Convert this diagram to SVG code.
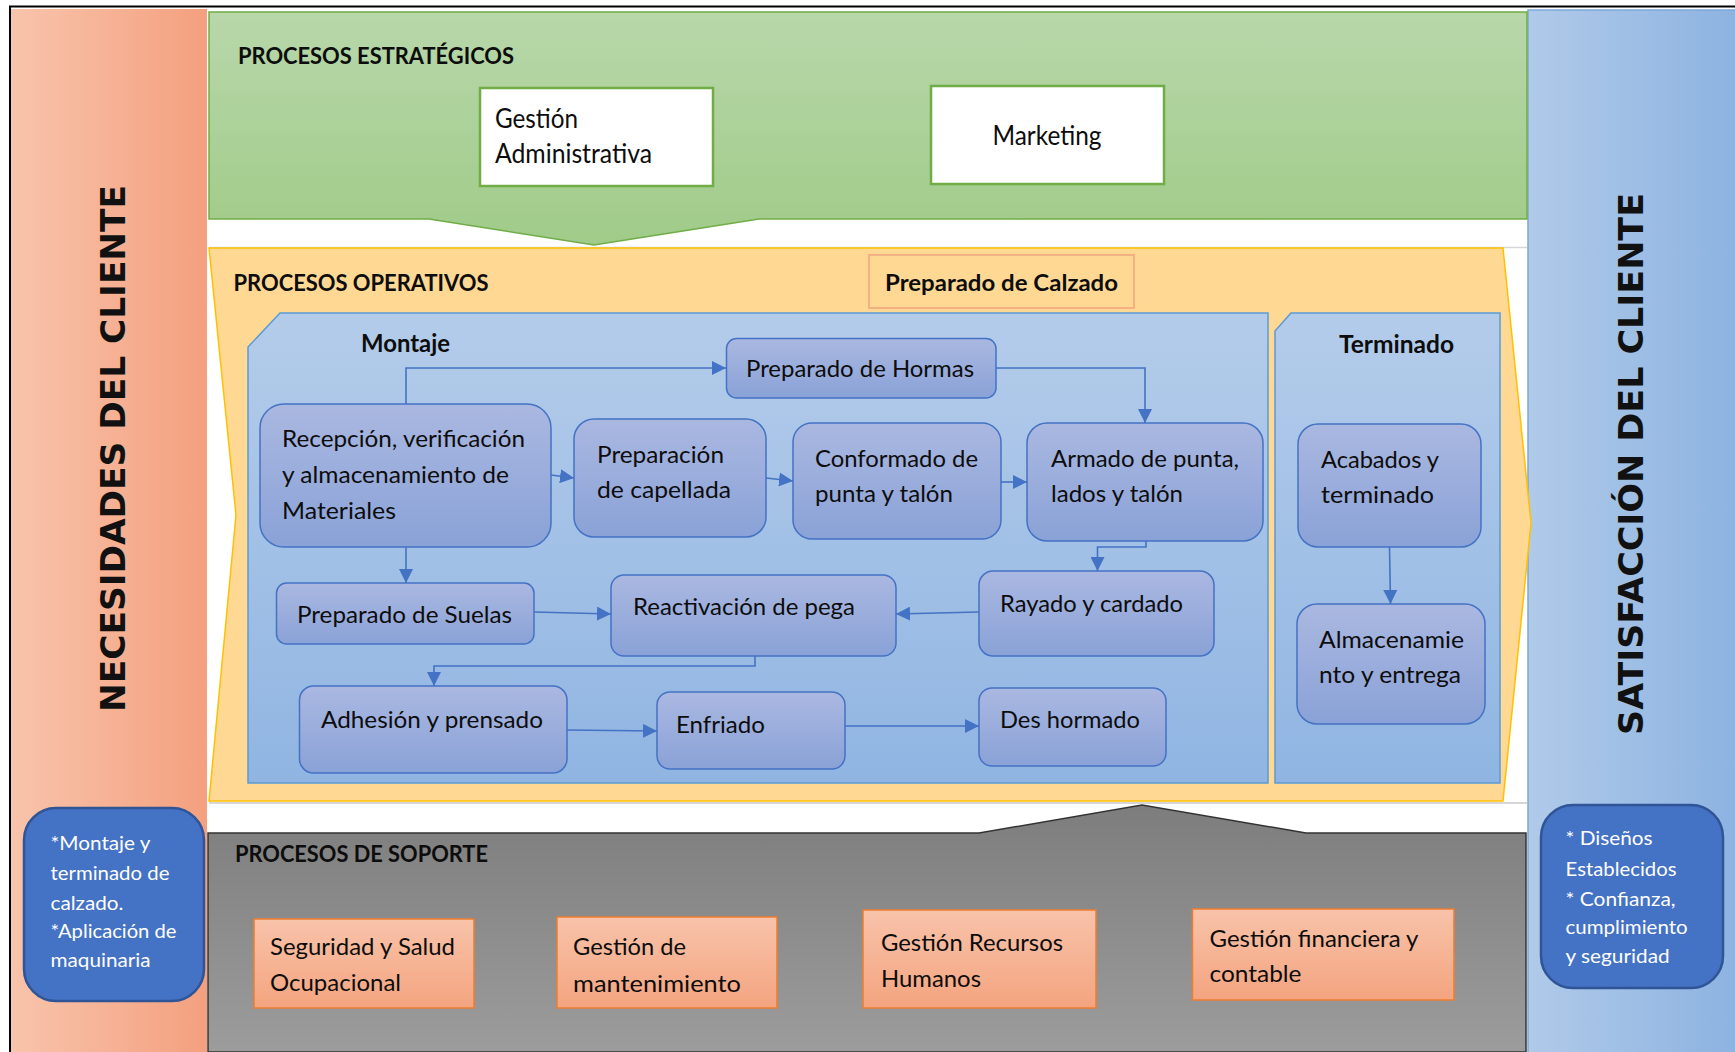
<svg xmlns="http://www.w3.org/2000/svg" width="1735" height="1052" viewBox="0 0 1735 1052">
<defs>
<linearGradient id="gLeft" x1="0" y1="0" x2="1" y2="0"><stop offset="0" stop-color="#F8C4AC"/><stop offset="1" stop-color="#F4A07E"/></linearGradient>
<linearGradient id="gRight" x1="0" y1="0" x2="1" y2="0"><stop offset="0" stop-color="#B0CAE9"/><stop offset="1" stop-color="#8DB3E1"/></linearGradient>
<linearGradient id="gGreen" x1="0" y1="0" x2="0" y2="1"><stop offset="0" stop-color="#B8D7AA"/><stop offset="1" stop-color="#A0CB88"/></linearGradient>
<linearGradient id="gCont" x1="0" y1="0" x2="0" y2="1"><stop offset="0" stop-color="#B4CCEA"/><stop offset="1" stop-color="#90B5E2"/></linearGradient>
<linearGradient id="gNode" x1="0" y1="0" x2="0" y2="1"><stop offset="0" stop-color="#AAB8E1"/><stop offset="1" stop-color="#8AA2D7"/></linearGradient>
<linearGradient id="gGray" x1="0" y1="0" x2="0" y2="1"><stop offset="0" stop-color="#7D7D7D"/><stop offset="1" stop-color="#9C9C9C"/></linearGradient>
<linearGradient id="gSalmon" x1="0" y1="0" x2="0" y2="1"><stop offset="0" stop-color="#F8C3AA"/><stop offset="1" stop-color="#F4A47F"/></linearGradient>
<marker id="arr" markerUnits="userSpaceOnUse" markerWidth="14" markerHeight="14" refX="14" refY="7" orient="auto"><path d="M0,0 L14,7 L0,14 Z" fill="#4472C4"/></marker>
<style>
text{font-family:Lato,"Open Sans","Liberation Sans",sans-serif;fill:#0D0D0D}
.h{font-weight:700;font-size:23px}
.t{font-size:24px}
.big{font-family:"DejaVu Sans",Verdana,sans-serif;font-weight:700;font-size:34px;fill:#111}
.w{font-size:19px;fill:#FFFFFF}
.node{fill:url(#gNode);stroke:#4472C4;stroke-width:1.5}
.sup{fill:url(#gSalmon);stroke:#ED7D31;stroke-width:1.5}
.strat{fill:#FFFFFF;stroke:#70AD47;stroke-width:2.5}
.cont{fill:url(#gCont);stroke:#5B9BD5;stroke-width:1.5}
.blue{fill:#4472C4;stroke:#2F5597;stroke-width:2.5}
.c{fill:none;stroke:#4472C4;stroke-width:1.6;marker-end:url(#arr)}
</style>
</defs>
<rect x="0" y="0" width="1735" height="1052" fill="#FFFFFF"/>

<g id="frame">
<line x1="9" y1="6.5" x2="1735" y2="6.5" stroke="#000" stroke-width="2"/>
<line x1="10" y1="6" x2="10" y2="1052" stroke="#000" stroke-width="2"/>
</g>

<g id="col-necesidades">
<rect x="11" y="9" width="196" height="1043" fill="url(#gLeft)"/>
<text class="big" transform="translate(125,448.5) rotate(-90)" text-anchor="middle" textLength="527" lengthAdjust="spacingAndGlyphs">NECESIDADES DEL CLIENTE</text>
</g>

<g id="col-satisfaccion">
<rect x="1528" y="10" width="208" height="1043" fill="url(#gRight)" stroke="#7FA6D8" stroke-width="1.5"/>
<text class="big" transform="translate(1643,464) rotate(-90)" text-anchor="middle" textLength="542" lengthAdjust="spacingAndGlyphs">SATISFACCIÓN DEL CLIENTE</text>
</g>

<g id="band-estrategicos">
<path d="M209,12 H1527 V219 H759 L594,245 L429,219 H209 Z" fill="url(#gGreen)" stroke="#70AD47" stroke-width="1.5"/>
<text class="h" x="238" y="64" textLength="276" lengthAdjust="spacingAndGlyphs">PROCESOS ESTRATÉGICOS</text>
</g>

<line x1="209" y1="247.5" x2="1527" y2="247.5" stroke="#D6D6D6" stroke-width="1.5"/>
<line x1="209" y1="803" x2="1527" y2="803" stroke="#D6D6D6" stroke-width="2"/>

<g id="band-operativos">
<path d="M209,248 H1503 L1531,523 L1503,801 H209 L236,515 Z" fill="#FFD893" stroke="#FFC000" stroke-width="1.5"/>
<text class="h" x="233.5" y="291" textLength="255" lengthAdjust="spacingAndGlyphs">PROCESOS OPERATIVOS</text>
</g>

<g id="band-soporte">
<path d="M208,833 H979 L1142,805 L1306,833 H1526 V1052 H208 Z" fill="url(#gGray)" stroke="#333333" stroke-width="1.5"/>
<text class="h" x="235" y="862" textLength="253" lengthAdjust="spacingAndGlyphs">PROCESOS DE SOPORTE</text>
</g>

<g id="gestion-administrativa">
<rect class="strat" x="480" y="88" width="233" height="98"/>
<text class="t" x="495" y="128" style="font-size:26px" textLength="83" lengthAdjust="spacingAndGlyphs">Gestión</text>
<text class="t" x="495" y="163" style="font-size:26px" textLength="157" lengthAdjust="spacingAndGlyphs">Administrativa</text>
</g>

<g id="marketing">
<rect class="strat" x="931" y="86" width="233" height="98"/>
<text class="t" x="1047" y="145" style="font-size:26px" text-anchor="middle" textLength="109" lengthAdjust="spacingAndGlyphs">Marketing</text>
</g>

<g id="preparado-calzado">
<rect x="869" y="255" width="265" height="53" fill="#FFD893" stroke="#F4B183" stroke-width="2"/>
<text class="h" x="885" y="291" textLength="233" lengthAdjust="spacingAndGlyphs">Preparado de Calzado</text>
</g>

<g id="montaje">
<path class="cont" d="M280,313 H1268 V783 H248 V347 Z"/>
<text class="h" x="361" y="352" style="font-size:25px" textLength="89" lengthAdjust="spacingAndGlyphs">Montaje</text>
</g>

<g id="terminado">
<path class="cont" d="M1291,313 H1500 V783 H1275 V331 Z"/>
<text class="h" x="1339" y="353" style="font-size:25px" textLength="115" lengthAdjust="spacingAndGlyphs">Terminado</text>
</g>

<g id="n-hormas">
<rect class="node" x="726.5" y="338.5" width="269.5" height="59.5" rx="10"/>
<text class="t" x="746" y="377" textLength="228" lengthAdjust="spacingAndGlyphs">Preparado de Hormas</text>
</g>

<g id="n-recepcion">
<rect class="node" x="260" y="404" width="291" height="143" rx="24"/>
<text class="t" x="282" y="447" textLength="243" lengthAdjust="spacingAndGlyphs">Recepción, verificación</text>
<text class="t" x="282" y="483" textLength="227" lengthAdjust="spacingAndGlyphs">y almacenamiento de</text>
<text class="t" x="282" y="519" textLength="114" lengthAdjust="spacingAndGlyphs">Materiales</text>
</g>

<g id="n-capellada">
<rect class="node" x="574" y="419" width="192" height="118" rx="20"/>
<text class="t" x="597" y="463" textLength="127" lengthAdjust="spacingAndGlyphs">Preparación</text>
<text class="t" x="597" y="498" textLength="134" lengthAdjust="spacingAndGlyphs">de capellada</text>
</g>

<g id="n-conformado">
<rect class="node" x="793" y="423" width="208" height="116" rx="19"/>
<text class="t" x="815" y="467" textLength="163" lengthAdjust="spacingAndGlyphs">Conformado de</text>
<text class="t" x="815" y="502" textLength="138" lengthAdjust="spacingAndGlyphs">punta y talón</text>
</g>

<g id="n-armado">
<rect class="node" x="1027" y="423" width="236" height="118" rx="20"/>
<text class="t" x="1051" y="467" textLength="188" lengthAdjust="spacingAndGlyphs">Armado de punta,</text>
<text class="t" x="1051" y="502" textLength="132" lengthAdjust="spacingAndGlyphs">lados y talón</text>
</g>

<g id="n-suelas">
<rect class="node" x="276.5" y="583" width="257.5" height="61" rx="10"/>
<text class="t" x="297" y="623" textLength="215" lengthAdjust="spacingAndGlyphs">Preparado de Suelas</text>
</g>

<g id="n-reactivacion">
<rect class="node" x="611" y="575" width="285" height="81" rx="13"/>
<text class="t" x="633" y="615" textLength="222" lengthAdjust="spacingAndGlyphs">Reactivación de pega</text>
</g>

<g id="n-rayado">
<rect class="node" x="979" y="571" width="235" height="85" rx="14"/>
<text class="t" x="1000" y="612" textLength="183" lengthAdjust="spacingAndGlyphs">Rayado y cardado</text>
</g>

<g id="n-adhesion">
<rect class="node" x="299.5" y="686" width="267.5" height="87" rx="14"/>
<text class="t" x="321" y="728" textLength="222" lengthAdjust="spacingAndGlyphs">Adhesión y prensado</text>
</g>

<g id="n-enfriado">
<rect class="node" x="657" y="692" width="188" height="77" rx="13"/>
<text class="t" x="676" y="733" textLength="89" lengthAdjust="spacingAndGlyphs">Enfriado</text>
</g>

<g id="n-deshormado">
<rect class="node" x="979" y="688" width="187" height="78" rx="13"/>
<text class="t" x="1000" y="728" textLength="140" lengthAdjust="spacingAndGlyphs">Des hormado</text>
</g>

<g id="n-acabados">
<rect class="node" x="1298" y="424" width="183" height="123" rx="20"/>
<text class="t" x="1321" y="468" textLength="118" lengthAdjust="spacingAndGlyphs">Acabados y</text>
<text class="t" x="1321" y="503" textLength="113" lengthAdjust="spacingAndGlyphs">terminado</text>
</g>

<g id="n-almacenamiento">
<rect class="node" x="1297" y="604" width="188" height="120" rx="20"/>
<text class="t" x="1319" y="648" textLength="145" lengthAdjust="spacingAndGlyphs">Almacenamie</text>
<text class="t" x="1319" y="683" textLength="142" lengthAdjust="spacingAndGlyphs">nto y entrega</text>
</g>

<g id="s-seguridad">
<rect class="sup" x="254" y="919" width="220" height="89"/>
<text class="t" x="270" y="955" textLength="185" lengthAdjust="spacingAndGlyphs">Seguridad y Salud</text>
<text class="t" x="270" y="991" textLength="131" lengthAdjust="spacingAndGlyphs">Ocupacional</text>
</g>

<g id="s-mantenimiento">
<rect class="sup" x="557" y="917" width="220" height="91"/>
<text class="t" x="573" y="955" textLength="113" lengthAdjust="spacingAndGlyphs">Gestión de</text>
<text class="t" x="573" y="992" textLength="168" lengthAdjust="spacingAndGlyphs">mantenimiento</text>
</g>

<g id="s-rrhh">
<rect class="sup" x="863" y="910" width="233" height="98"/>
<text class="t" x="881" y="951" textLength="182" lengthAdjust="spacingAndGlyphs">Gestión Recursos</text>
<text class="t" x="881" y="987" textLength="100" lengthAdjust="spacingAndGlyphs">Humanos</text>
</g>

<g id="s-financiera">
<rect class="sup" x="1192.5" y="909" width="261.5" height="91"/>
<text class="t" x="1209.5" y="947" textLength="209" lengthAdjust="spacingAndGlyphs">Gestión financiera y</text>
<text class="t" x="1209.5" y="982" textLength="92" lengthAdjust="spacingAndGlyphs">contable</text>
</g>

<g id="nota-necesidades">
<rect class="blue" x="24" y="808" width="180" height="193" rx="32"/>
<text class="w" x="50.5" y="850" textLength="100" lengthAdjust="spacingAndGlyphs">*Montaje y</text>
<text class="w" x="50.5" y="880" textLength="119" lengthAdjust="spacingAndGlyphs">terminado de</text>
<text class="w" x="50.5" y="910" textLength="73" lengthAdjust="spacingAndGlyphs">calzado.</text>
<text class="w" x="50.5" y="938" textLength="126" lengthAdjust="spacingAndGlyphs">*Aplicación de</text>
<text class="w" x="50.5" y="967" textLength="100" lengthAdjust="spacingAndGlyphs">maquinaria</text>
</g>

<g id="nota-satisfaccion">
<rect class="blue" x="1541" y="805" width="182" height="183" rx="32"/>
<text class="w" x="1565.6" y="845" textLength="87" lengthAdjust="spacingAndGlyphs">* Diseños</text>
<text class="w" x="1565.6" y="876" textLength="111" lengthAdjust="spacingAndGlyphs">Establecidos</text>
<text class="w" x="1565.6" y="906" textLength="110" lengthAdjust="spacingAndGlyphs">* Confianza,</text>
<text class="w" x="1565.6" y="934" textLength="122" lengthAdjust="spacingAndGlyphs">cumplimiento</text>
<text class="w" x="1565.6" y="963" textLength="104" lengthAdjust="spacingAndGlyphs">y seguridad</text>
</g>

<g id="connectors">
<path class="c" d="M406,404 V368 H726"/>
<path class="c" d="M996,368 H1145 V423"/>
<path class="c" d="M551,475 L574,478"/>
<path class="c" d="M766,478 L793,481"/>
<path class="c" d="M1001,482 L1027,482"/>
<path class="c" d="M1146,541 V547 H1097.5 V571"/>
<path class="c" d="M979,612 L896,614"/>
<path class="c" d="M406,547 V583"/>
<path class="c" d="M534,612 L611,614"/>
<path class="c" d="M755,656 V666 H434 V686"/>
<path class="c" d="M567,730 L657,731"/>
<path class="c" d="M845,726 H979"/>
<path class="c" d="M1389.5,547 L1390.5,604"/>
</g>
</svg>
